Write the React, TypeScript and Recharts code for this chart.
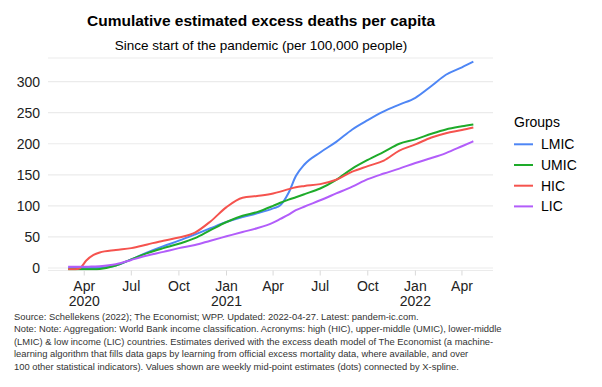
import React from "react";
import { LineChart, Line, XAxis, YAxis, CartesianGrid } from "recharts";

// weekly-ish reading of the curves, sampled at these dates
const dates = [
  "2020-03-01", "2020-03-15", "2020-03-24", "2020-04-05", "2020-04-19", "2020-05-01",
  "2020-06-01", "2020-07-01", "2020-08-01", "2020-09-01", "2020-10-01", "2020-11-01",
  "2020-12-01", "2021-01-01", "2021-02-01", "2021-03-01", "2021-04-01", "2021-04-15",
  "2021-05-01", "2021-05-15", "2021-06-01", "2021-07-01", "2021-08-01", "2021-09-01",
  "2021-10-01", "2021-11-01", "2021-12-01", "2022-01-01", "2022-02-01", "2022-03-01",
  "2022-04-01", "2022-04-23",
];

const lmic = [1, 0.5, 0, 0, 0, 0.5, 4, 14, 25, 35, 44, 54, 64, 74, 82, 88, 96, 101, 121, 148, 167, 186, 203, 223, 238, 252, 263, 274, 293, 311, 323, 332];
const umic = [-2, -2, -2, -2, -2, -1.5, 4, 14, 24, 32, 39, 48, 61, 74, 84, 90, 100, 105, 110, 114, 119, 128, 142, 160, 174, 187, 200, 207, 216, 223, 228, 231];
const hic = [-2, -2, 0, 12, 21, 25, 29, 32, 38, 44, 49, 57, 75, 98, 113, 116, 120, 123, 127, 130, 132, 135, 142, 155, 164, 173, 189, 199, 210, 217, 222, 226];
const lic = [2, 2, 2, 2, 2.5, 3, 6, 13, 20, 26, 32, 37, 44, 51, 58, 64, 73, 79, 86, 93, 99, 109, 120, 131, 143, 152, 160, 169, 177, 185, 196, 204];

const tickDates = [
  "2020-04-01", "2020-07-01", "2020-10-01", "2021-01-01", "2021-04-01",
  "2021-07-01", "2021-10-01", "2022-01-01", "2022-04-01",
];
const yTicks = [0, 50, 100, 150, 200, 250, 300];

const series = [
  { key: "LMIC", values: lmic, color: "#4E86F5" },
  { key: "UMIC", values: umic, color: "#1EAB2A" },
  { key: "HIC", values: hic, color: "#F5534E" },
  { key: "LIC", values: lic, color: "#B25DFA" },
];

const footnote = [
  "Source: Schellekens (2022); The Economist; WPP. Updated: 2022-04-27. Latest: pandem-ic.com.",
  "Note: Note: Aggregation: World Bank income classification. Acronyms: high (HIC), upper-middle (UMIC), lower-middle",
  "(LMIC) & low income (LIC) countries. Estimates derived with the excess death model of The Economist (a machine-",
  "learning algorithm that fills data gaps by learning from official excess mortality data, where available, and over",
  "100 other statistical indicators). Values shown are weekly mid-point estimates (dots) connected by X-spline.",
];

const MONTHS = ["Jan", "Feb", "Mar", "Apr", "May", "Jun", "Jul", "Aug", "Sep", "Oct", "Nov", "Dec"];
const toTime = (s: string) => new Date(s + "T00:00:00Z").getTime();

const rows = dates.map((d, i) => {
  const row: Record<string, number> = { t: toTime(d) };
  series.forEach((s) => (row[s.key] = s.values[i]));
  return row;
});

const xTicks = tickDates.map(toTime);
const xDomain = [toTime("2020-01-22"), toTime("2022-05-31")];

const DateTick = (props: any) => {
  const { x, y, payload, index } = props;
  const d = new Date(payload.value);
  const m = d.getUTCMonth();
  const showYear = index === 0 || m === 0;
  return (
    <text x={x} y={y} textAnchor="middle" fill="#222" fontSize={14}>
      <tspan x={x} dy={13.5}>{MONTHS[m]}</tspan>
      {showYear && <tspan x={x} dy={15}>{d.getUTCFullYear()}</tspan>}
    </text>
  );
};

export default function App() {
  return (
    <div
      style={{
        position: "absolute",
        left: 0,
        top: 0,
        width: 602,
        height: 387,
        background: "#fff",
        fontFamily: "'Liberation Sans', Arial, sans-serif",
        color: "#000",
      }}
    >
      <div style={{ position: "absolute", left: 0, width: 522, top: 13.4, textAlign: "center", fontSize: 15.5, lineHeight: "15.5px", fontWeight: "bold" }}>
        Cumulative estimated excess deaths per capita
      </div>
      <div style={{ position: "absolute", left: 0, width: 522, top: 39.3, textAlign: "center", fontSize: 13.5, lineHeight: "13.5px" }}>
        Since start of the pandemic (per 100,000 people)
      </div>

      <div style={{ position: "absolute", left: 0, top: 0 }}>
        <LineChart width={602} height={315} data={rows} margin={{ top: 58, right: 109, bottom: 0, left: 0 }}>
          <CartesianGrid vertical={false} stroke="#EBEBEB" strokeWidth={1.2} />
          <XAxis
            dataKey="t"
            type="number"
            domain={xDomain}
            ticks={xTicks}
            interval={0}
            allowDataOverflow
            axisLine={false}
            tickSize={5}
            tickLine={{ stroke: "#D9D9D9" }}
            height={44.5}
            tick={<DateTick />}
          />
          <YAxis
            type="number"
            domain={[-4, 338]}
            ticks={yTicks}
            interval={0}
            allowDataOverflow
            axisLine={false}
            tickLine={false}
            width={48}
            tick={{ fill: "#222", fontSize: 14 }}
          />
          {series.map((s) => (
            <Line
              key={s.key}
              dataKey={s.key}
              type="monotone"
              stroke={s.color}
              strokeWidth={2}
              dot={false}
              isAnimationActive={false}
            />
          ))}
        </LineChart>
      </div>

      <svg style={{ position: "absolute", left: 0, top: 0 }} width={602} height={387} pointerEvents="none">
        <text x={514} y={127} fontSize={14} fill="#000">Groups</text>
        {series.map((s, i) => (
          <g key={s.key}>
            <line x1={514} x2={533} y1={144.3 + i * 20.7} y2={144.3 + i * 20.7} stroke={s.color} strokeWidth={2} />
            <text x={541} y={149.3 + i * 20.7} fontSize={14} fill="#000">{s.key}</text>
          </g>
        ))}
      </svg>

      <div style={{ position: "absolute", left: 14, top: 310.6, fontSize: 9.4, lineHeight: "12.5px", color: "#333" }}>
        {footnote.map((line, i) => (
          <div key={i} style={{ whiteSpace: "nowrap" }}>{line}</div>
        ))}
      </div>
    </div>
  );
}
